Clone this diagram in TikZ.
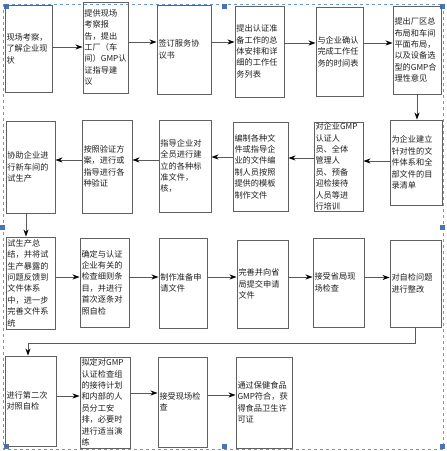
\documentclass[tikz,border=0pt]{standalone}
\usepackage{fontspec}
\setmainfont{Noto Sans CJK SC}
\usetikzlibrary{arrows.meta}
\definecolor{handleblue}{HTML}{4A74B8}
\definecolor{frameblue}{HTML}{6A98D6}
\tikzset{
  box/.style={draw=black!62, line width=0.9pt, inner sep=0pt},
  txt/.style={inner sep=0pt, align=left, font=\fontsize{8.2}{11.4}\selectfont, text=black!88},
  arr/.style={draw=black!65, line width=0.8pt, -{Stealth[length=7pt,width=5pt,black]}},
  ln/.style={draw=black!65, line width=0.8pt},
  handle/.style={fill=handleblue, draw=none, minimum size=5pt, inner sep=0pt},
}
\newcommand\bx[6]{%
  \pgfmathsetmacro\bxw{#4-#2}%
  \pgfmathsetmacro\bxh{#5-#3}%
  \pgfmathsetmacro\bxt{#4-#2-3}%
  \node[box, minimum width=\bxw pt, minimum height=\bxh pt] (#1) at ({(#2+#4)/2},{(#3+#5)/2}) {};
  \node[txt, text width=\bxt pt] (#1t) at (#1.center) {#6};}
\newcommand\rarr[3]{%
  \coordinate (#1o) at ([yshift=#3pt]#1.east);
  \draw[arr] (#1o) -- (#1o -| #2.west);}
\newcommand\larr[3]{%
  \coordinate (#1o) at ([yshift=#3pt]#1.west);
  \draw[arr] (#1o) -- (#1o -| #2.east);}
\begin{document}
\begin{tikzpicture}[x=1pt,y=-1pt]
\useasboundingbox (0,0) rectangle (447,451);
% selection frame
\draw[frameblue, dashed, line width=0.7pt] (3,4) rectangle (443,449);
\foreach \hx/\hy/\hn in {6/6/h1,224/6/h2,442/6/h3,2/227/h4,442/227/h5,6/446/h6,224/446/h7,442/446/h8}
  \node[handle] (\hn) at (\hx,\hy) {};
% row 1
\bx{b1}{5}{5}{52}{92}{现场考察，\\了解企业现\\状}
\bx{b2}{83}{2}{128}{93}{提供现场\\考察报\\告，提出\\工厂（车\\间）GMP认\\证指导建\\议}
\bx{b3}{157}{5}{211}{94}{签订服务协\\议书}
\bx{b4}{235}{6}{284}{97}{提出认证准\\备工作的总\\体安排和详\\细的工作任\\务列表}
\bx{b5}{316}{7}{363}{96}{与企业确认\\完成工作任\\务的时间表}
\bx{b6}{393}{6}{441}{94}{提出厂区总\\布局和车间\\平面布局，\\以及设备选\\型的GMP合\\理性意见}
% row 2
\bx{b7}{390}{120}{442}{205}{为企业建立\\针对性的文\\件体系和全\\部文件的目\\录清单}
\bx{b8}{314}{122}{363}{211}{对企业GMP\\认证人\\员、全体\\管理人\\员、预备\\迎检接待\\人员等进\\行培训}
\bx{b9}{233}{122}{288}{211}{编制各种文\\件或指导企\\业的文件编\\制人员按照\\提供的模板\\制作文件}
\bx{b10}{159}{120}{211}{212}{指导企业对\\全员进行建\\立的各种标\\准文件，\\核，}
\bx{b11}{82}{120}{132}{213}{按照验证方\\案，进行或\\指导进行各\\种验证}
\bx{b12}{6}{121}{55}{213}{协助企业进\\行新车间的\\试生产}
% row 3
\bx{b13}{6}{237}{55}{329}{试生产总\\结，并将试\\生产暴露的\\问题反馈到\\文件体系\\中，进一步\\完善文件系\\统}
\bx{b14}{80}{238}{129}{327}{确定与认证\\企业有关的\\检查细则条\\目，并进行\\首次逐条对\\照自检}
\bx{b15}{159}{238}{207}{328}{制作准备申\\请文件}
\bx{b16}{237}{240}{288}{328}{完善并向省\\局提交申请\\文件}
\bx{b17}{313}{238}{364}{327}{接受省局现\\场检查}
\bx{b18}{390}{240}{441}{327}{对自检问题\\进行整改}
% row 4
\bx{b19}{5}{356}{56}{446}{进行第二次\\对照自检}
\bx{b20}{80}{357}{130}{448}{拟定对GMP\\认证检查组\\的接待计划\\和内部的人\\员分工安\\排，必要时\\进行适当演\\练}
\bx{b21}{158}{357}{207}{447}{接受现场检\\查}
\bx{b22}{236}{357}{292}{448}{通过保健食品\\GMP符合，获\\得食品卫生许\\可证}
% connectors row 1
\rarr{b1}{b2}{1.5}
\rarr{b2}{b3}{5.5}
\rarr{b3}{b4}{7.5}
\rarr{b4}{b5}{8.5}
\rarr{b5}{b6}{8.5}
\draw[arr] (b6.south) -- (b6.south |- b7.north);
% row 2
\larr{b7}{b8}{1.5}
\larr{b8}{b9}{8.5}
\larr{b9}{b10}{9.5}
\larr{b10}{b11}{6}
\larr{b11}{b12}{6.5}
\draw[arr] ([xshift=-4.5pt]b12.south) -- ([xshift=-4.5pt]b12.south |- b13.north);
% row 3
\rarr{b13}{b14}{6}
\rarr{b14}{b15}{5.5}
\rarr{b15}{b16}{6}
\rarr{b16}{b17}{7}
\rarr{b17}{b18}{5}
\coordinate (turnR) at ([yshift=-16pt]b18.south);
\coordinate (turnL) at ([xshift=-2.5pt]b19.north |- turnR);
\draw[arr] (b18.south) -- (turnR) -- (turnL) -- (turnL |- b19.north);
% row 4
\rarr{b19}{b20}{5}
\rarr{b20}{b21}{9.5}
\rarr{b21}{b22}{7}
\end{tikzpicture}
\end{document}
